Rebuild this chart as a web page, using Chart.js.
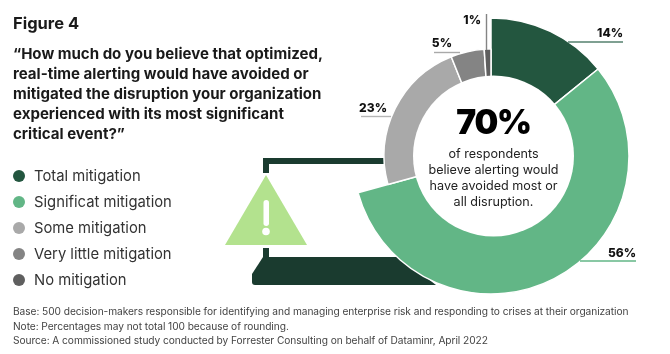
<!DOCTYPE html>
<html>
<head>
<meta charset="utf-8">
<script src="https://cdn.jsdelivr.net/npm/chart.js@4"></script>
<style>
  html, body { margin: 0; background: #fff; }
  #page { position: relative; width: 670px; height: 354px; overflow: hidden; font-family: "Inter", sans-serif; color: #1a1a1a; }
  #page canvas { position: absolute; left: 0; top: 0; }
  .txt { position: absolute; white-space: nowrap; }
  #figure { left: 13px; top: 13px; font-size: 16.5px; font-weight: 700; }
  #question { left: 13px; top: 44px; font-size: 15.05px; font-weight: 700; line-height: 20px; }
  #legend { left: 13px; top: 162.5px; font-size: 14.8px; color: #333; }
  #legend div { height: 26.1px; line-height: 26.1px; display: flex; align-items: center; }
  #legend i { width: 12px; height: 12px; border-radius: 50%; margin-right: 9px; }
  #big { left: 413px; width: 161px; top: 100px; text-align: center; font-size: 33.5px; font-weight: 900; letter-spacing: -1.2px; color: #000; line-height: 44px; }
  #sub { left: 413px; width: 161px; top: 145.6px; text-align: center; font-size: 12.6px; line-height: 16.2px; color: #222; }
  #notes { left: 13px; top: 304px; font-size: 10.2px; letter-spacing: -0.07px; line-height: 14.5px; color: #444; }
</style>
</head>
<body>
<div id="page">
  <canvas id="chart" width="670" height="354"></canvas>
  <div class="txt" id="figure">Figure 4</div>
  <div class="txt" id="question">“How much do you believe that optimized,<br>real-time alerting would have avoided or<br>mitigated the disruption your organization<br>experienced with its most significant<br>critical event?”</div>
  <div class="txt" id="legend"></div>
  <div class="txt" id="big">70%</div>
  <div class="txt" id="sub">of respondents<br>believe alerting would<br>have avoided most or<br>all disruption.</div>
  <div class="txt" id="notes">Base: 500 decision-makers responsible for identifying and managing enterprise risk and responding to crises at their organization<br>Note: Percentages may not total 100 because of rounding.<br>Source: A commissioned study conducted by Forrester Consulting on behalf of Dataminr, April 2022</div>
</div>
<script>
// Dados do gráfico
const categories = ["Total mitigation", "Significat mitigation", "Some mitigation", "Very little mitigation", "No mitigation"];
const values = [14, 56, 23, 5, 1];
const colors = ["#23563f", "#62b686", "#a9a9a9", "#848484", "#5f5f5f"];
// Os dois primeiros setores são mais largos que os cinzas
const ringScale = [1, 1, 0.775, 0.775, 0.775];

// Rótulos e linhas de chamada: [texto x, texto y, x1, y1, x2, y2, cor]
const callouts = [
  [623, 33, 568, 42, 623, 42, "#55806e"],
  [636, 253, 580, 261, 636, 261, "#62b686"],
  [387, 108, 361, 116.5, 391, 116.5, "#b5b5b5"],
  [452, 43, 434, 52.5, 460, 52.5, "#a9a9a9"],
  [481, 20, 486.5, 14, 486.5, 50, "#848484"]
];

// Legenda em HTML
const legendBox = document.getElementById("legend");
categories.forEach((name, i) => {
  const row = document.createElement("div");
  row.innerHTML = `<i style="background:${colors[i]}"></i>${name}`;
  legendBox.appendChild(row);
});

// Notebook e triângulo de alerta atrás da rosca
function drawLaptop(ctx) {
  ctx.fillStyle = "#1a3b2f";
  ctx.beginPath();
  ctx.roundRect(263, 158, 135, 6, [2, 0, 0, 0]);
  ctx.fill();
  ctx.fillRect(263, 158, 6, 15);
  ctx.fillRect(263, 248, 6, 10);
  ctx.beginPath();
  ctx.moveTo(263, 257);
  ctx.lineTo(400, 257);
  ctx.lineTo(436, 285);
  ctx.lineTo(255, 285);
  ctx.quadraticCurveTo(252, 285, 252, 282);
  ctx.lineTo(252, 274);
  ctx.closePath();
  ctx.fill();

  ctx.fillStyle = "#b3e28e";
  ctx.beginPath();
  ctx.moveTo(266, 175);
  ctx.lineTo(307, 245);
  ctx.lineTo(225, 245);
  ctx.closePath();
  ctx.fill();

  ctx.fillStyle = "#fff";
  ctx.beginPath();
  ctx.roundRect(263.5, 200, 5.5, 26, 2.7);
  ctx.fill();
  ctx.beginPath();
  ctx.arc(266, 231.5, 3.8, 0, Math.PI * 2);
  ctx.fill();
}

const donutExtras = {
  id: "donutExtras",
  // Ajusta o raio de cada setor
  afterDatasetsUpdate(chart) {
    const arcs = chart.getDatasetMeta(0).data;
    arcs.forEach((arc, i) => { arc.outerRadius = 138 * ringScale[i]; });
  },
  beforeDatasetsDraw(chart) {
    drawLaptop(chart.ctx);
  },
  afterDatasetsDraw(chart) {
    const ctx = chart.ctx;
    // Miolo branco
    ctx.fillStyle = "#fff";
    ctx.beginPath();
    ctx.arc(493.5, 156, 80.5, 0, Math.PI * 2);
    ctx.fill();
    // Linhas de chamada e porcentagens
    callouts.forEach((c, i) => {
      ctx.strokeStyle = c[6];
      ctx.lineWidth = 1.4;
      ctx.beginPath();
      ctx.moveTo(c[2], c[3]);
      ctx.lineTo(c[4], c[5]);
      ctx.stroke();
      ctx.fillStyle = "#111";
      ctx.font = "800 12px Inter";
      ctx.textAlign = "right";
      ctx.textBaseline = "middle";
      ctx.fillText(values[i] + "%", c[0], c[1]);
    });
  }
};

new Chart(document.getElementById("chart"), {
  type: "doughnut",
  data: {
    labels: categories,
    datasets: [{ data: values, backgroundColor: colors, borderColor: "#fff", borderWidth: 1.5 }]
  },
  options: {
    responsive: false,
    animation: false,
    cutout: 76,
    layout: { padding: { left: 353, right: 41, top: 18, bottom: 60 } },
    plugins: { legend: { display: false }, tooltip: { enabled: false } }
  },
  plugins: [donutExtras]
});
</script>
</body>
</html>
